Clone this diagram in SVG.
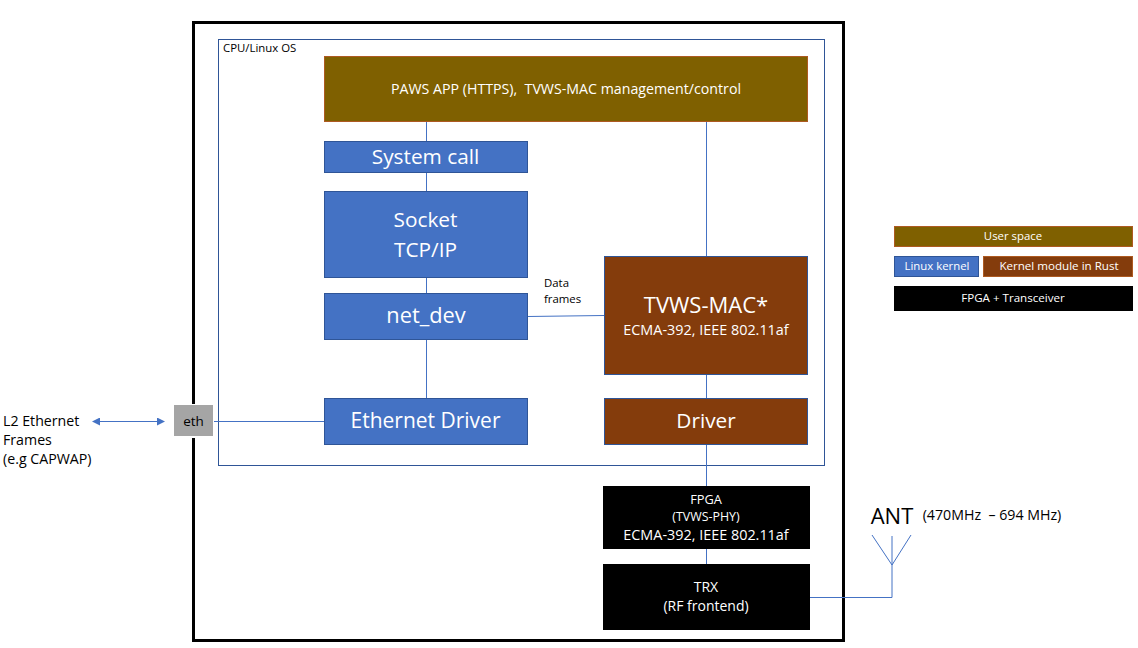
<svg xmlns="http://www.w3.org/2000/svg" width="1138" height="648" viewBox="0 0 1138 648">
<style>
text{font-family:"Open Sans","Noto Sans","Liberation Sans",sans-serif;text-anchor:middle;white-space:pre}
.w{fill:#fff}.k{fill:#000}
.blue{fill:#4472C4;stroke:#2F5597;stroke-width:1}
.brown{fill:#843C0C;stroke:#2F5597;stroke-width:1}
.olive{fill:#7F6000;stroke:#AE5A21;stroke-width:1}
.brownl{fill:#843C0C;stroke:#AE5A21;stroke-width:1}
.c{fill:none;stroke:#4472C4;stroke-width:1}
.s22{font-size:20.8px}.s14{font-size:14px}.s142{font-size:14.200px}.s145{font-size:14.400px}.s11{font-size:11.400px}
.l{text-anchor:start}
</style>
<defs>
<marker id="a" viewBox="0 0 8 8" refX="7" refY="4" markerWidth="8" markerHeight="8" orient="auto-start-reverse" markerUnits="userSpaceOnUse"><path d="M0 0L8 4L0 8Z" fill="#4472C4"/></marker>
</defs>
<rect id="board" x="193.500" y="22.500" width="650" height="618" fill="#fff" stroke="#000" stroke-width="3"/>
<g id="cpu"><rect x="218.500" y="39.500" width="606" height="426" fill="#fff" stroke="#2F5597"/><text x="223" y="52" class="k s11 l">CPU/Linux OS</text></g>
<g id="connectors">
<path class="c" d="M426.500 121V141M426.500 172V191M426.500 277V293M426.500 339V398M706.500 121V256M706.500 374V398M706.500 444V486M706.500 549V564M527.500 316.500L604 315.500M213 421.500H324M810 597.500H892V565M892 565L872 535M892 565L911 535M892 565V536"/>
<path class="c" d="M93 421.500H164" marker-start="url(#a)" marker-end="url(#a)"/>
</g>
<g id="paws"><rect class="olive" x="324.500" y="56.500" width="483" height="65"/><text class="w s142" x="566" y="94">PAWS APP (HTTPS),  TVWS-MAC management/control</text></g>
<g id="syscall"><rect class="blue" x="324.500" y="141.500" width="203" height="31"/><text class="w s22" x="425.500" y="164">System call</text></g>
<g id="socket"><rect class="blue" x="324.500" y="191.500" width="203" height="86"/><text class="w s22" x="425.500" y="227">Socket</text><text class="w s22" x="425.500" y="257">TCP/IP</text></g>
<g id="netdev"><rect class="blue" x="324.500" y="293.500" width="203" height="46"/><text class="w" x="426" y="323" style="font-size:21.800px">net_dev</text></g>
<g id="ethdrv"><rect class="blue" x="324.500" y="398.500" width="203" height="46"/><text class="w" x="425.500" y="428" style="font-size:21px">Ethernet Driver</text></g>
<g id="dataframes"><text class="k s11 l" x="544" y="287">Data</text><text class="k s11 l" x="544" y="303">frames</text></g>
<g id="mac"><rect class="brown" x="604.500" y="256.500" width="203" height="118"/><text class="w" x="706" y="313" style="font-size:22px">TVWS-MAC*</text><text class="w s145" x="706" y="335">ECMA-392, IEEE 802.11af</text></g>
<g id="driver"><rect class="brown" x="604.500" y="398.500" width="203" height="46"/><text class="w s22" x="706" y="428">Driver</text></g>
<g id="fpga"><rect class="k" x="603" y="486" width="207" height="63"/><text class="w" x="706" y="504" style="font-size:12.800px">FPGA</text><text class="w" x="706" y="521" style="font-size:12.400px">(TVWS-PHY)</text><text class="w s145" x="706" y="540">ECMA-392, IEEE 802.11af</text></g>
<g id="trx"><rect class="k" x="603" y="564" width="207" height="66"/><text class="w s14" x="706" y="592">TRX</text><text class="w s14" x="706" y="611">(RF frontend)</text></g>
<g id="eth"><rect x="173" y="404" width="41" height="34" fill="#fff"/><rect x="174" y="405" width="39" height="31" fill="#A5A5A5"/><text class="k" x="193.500" y="426" style="font-size:13.500px">eth</text></g>
<g id="l2"><text class="k s142 l" x="3" y="426">L2 Ethernet</text><text class="k s142 l" x="3" y="445">Frames</text><text class="k s142 l" x="3" y="464">(e.g CAPWAP)</text></g>
<g id="ant"><text class="k" x="892" y="524" style="font-size:22px">ANT</text><text class="k s142" x="992" y="520">(470MHz  – 694 MHz)</text></g>
<g id="legend-user"><rect class="olive" x="894.500" y="226.500" width="238" height="20"/><text class="w s11" x="1013" y="240">User space</text></g>
<g id="legend-kernel"><rect class="blue" x="894.500" y="256.500" width="84" height="20"/><text class="w s11" x="937" y="270">Linux kernel</text></g>
<g id="legend-rust"><rect class="brownl" x="983.500" y="256.500" width="149" height="20"/><text class="w" x="1059" y="270" style="font-size:11.600px">Kernel module in Rust</text></g>
<g id="legend-fpga"><rect class="k" x="894" y="286" width="239" height="25"/><text class="w" x="1013" y="302" style="font-size:11.600px">FPGA + Transceiver</text></g>
</svg>
